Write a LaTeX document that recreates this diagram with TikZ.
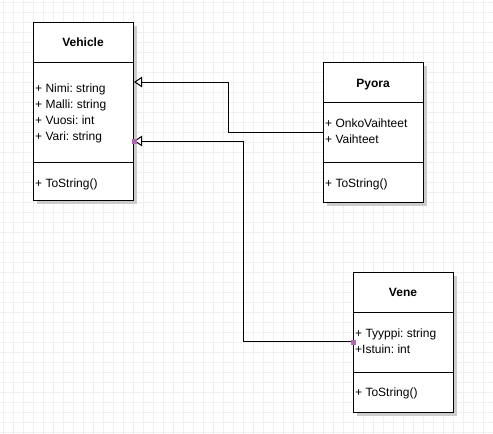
\documentclass[tikz,border=0pt]{standalone}
\usepackage{fontspec}
\setmainfont{Liberation Sans}
\frenchspacing
\usetikzlibrary{arrows.meta,shadows,calc}
\definecolor{gridc}{HTML}{F0F0F0}
\definecolor{shadowc}{HTML}{CCCCCC}
\definecolor{handlec}{HTML}{B266B2}
\begin{document}
\begin{tikzpicture}[x=1pt,y=-1pt,
 classbox/.style={draw=black, line width=1pt, fill=white, rectangle, inner sep=0pt, anchor=north west, minimum width=100pt,
   drop shadow={shadow xshift=3pt, shadow yshift=-3pt, fill=shadowc, opacity=1}},
 ctitle/.style={font=\fontsize{12}{14}\selectfont\bfseries, anchor=base, inner sep=0pt},
 member/.style={font=\fontsize{12}{14}\selectfont\frenchspacing, anchor=base west, inner sep=0pt},
 sepline/.style={line width=1pt},
 inh/.style={line width=1pt, -{Triangle[open, length=8pt, width=10.5pt]}},
 handle/.style={fill=handlec, draw=none, rectangle, minimum size=5pt, inner sep=0pt}
]
\useasboundingbox (0,0) rectangle (493,434);
\fill[white] (0,0) rectangle (493,434);
\foreach \x in {3,13,...,493} \draw[gridc, line width=1pt] (\x,0) -- (\x,434);
\foreach \y in {2,12,...,432} \draw[gridc, line width=1pt] (0,\y) -- (493,\y);

% Vehicle
\node[classbox, minimum height=178pt] (vehicle) at (33,22) {};
\draw[sepline] ($(vehicle.north west)+(0,40)$) -- ($(vehicle.north east)+(0,40)$);
\draw[sepline] ($(vehicle.north west)+(0,140)$) -- ($(vehicle.north east)+(0,140)$);
\node[ctitle] (vt) at (83,46) {Vehicle};
\node[member] (va1) at (35,92.5) {+ Nimi: string};
\node[member] (va2) at (35,108.5) {+ Malli: string};
\node[member] (va3) at (35,124.5) {+ Vuosi: int};
\node[member] (va4) at (35,140.5) {+ Vari: string};
\node[member] (vm1) at (35,187.5) {+ ToString()};

% Pyora
\node[classbox, minimum height=140pt] (pyora) at (323,62) {};
\draw[sepline] ($(pyora.north west)+(0,40)$) -- ($(pyora.north east)+(0,40)$);
\draw[sepline] ($(pyora.north west)+(0,100)$) -- ($(pyora.north east)+(0,100)$);
\node[ctitle] (pt) at (373,87) {Pyora};
\node[member] (pa1) at (325,127) {+ OnkoVaihteet};
\node[member] (pa2) at (325,143) {+ Vaihteet};
\node[member] (pm1) at (325,187.5) {+ ToString()};

% Vene
\node[classbox, minimum height=140pt] (vene) at (353,272) {};
\draw[sepline] ($(vene.north west)+(0,40)$) -- ($(vene.north east)+(0,40)$);
\draw[sepline] ($(vene.north west)+(0,100)$) -- ($(vene.north east)+(0,100)$);
\node[ctitle] (nt) at (403,296) {Vene};
\node[member] (na1) at (355,337) {+ Tyyppi: string};
\node[member] (na2) at (355,353) {+Istuin: int};
\node[member] (nm1) at (355,396) {+ ToString()};

% connectors
\coordinate (vin1) at ($(vehicle.north east)+(0,60)$);
\coordinate (vin2) at ($(vehicle.north east)+(0,119)$);
\draw[inh] (pyora.west) -- ++(-95,0) |- (vin1);
\draw[inh] ($(vene.west)+(0,-1)$) -- ++(-110,0) |- (vin2);
\node[handle] (h1) at ($(vin2)+(0.5,0.5)$) {};
\node[handle] (h2) at ($(vene.west)+(0.5,-0.5)$) {};
\end{tikzpicture}
\end{document}
